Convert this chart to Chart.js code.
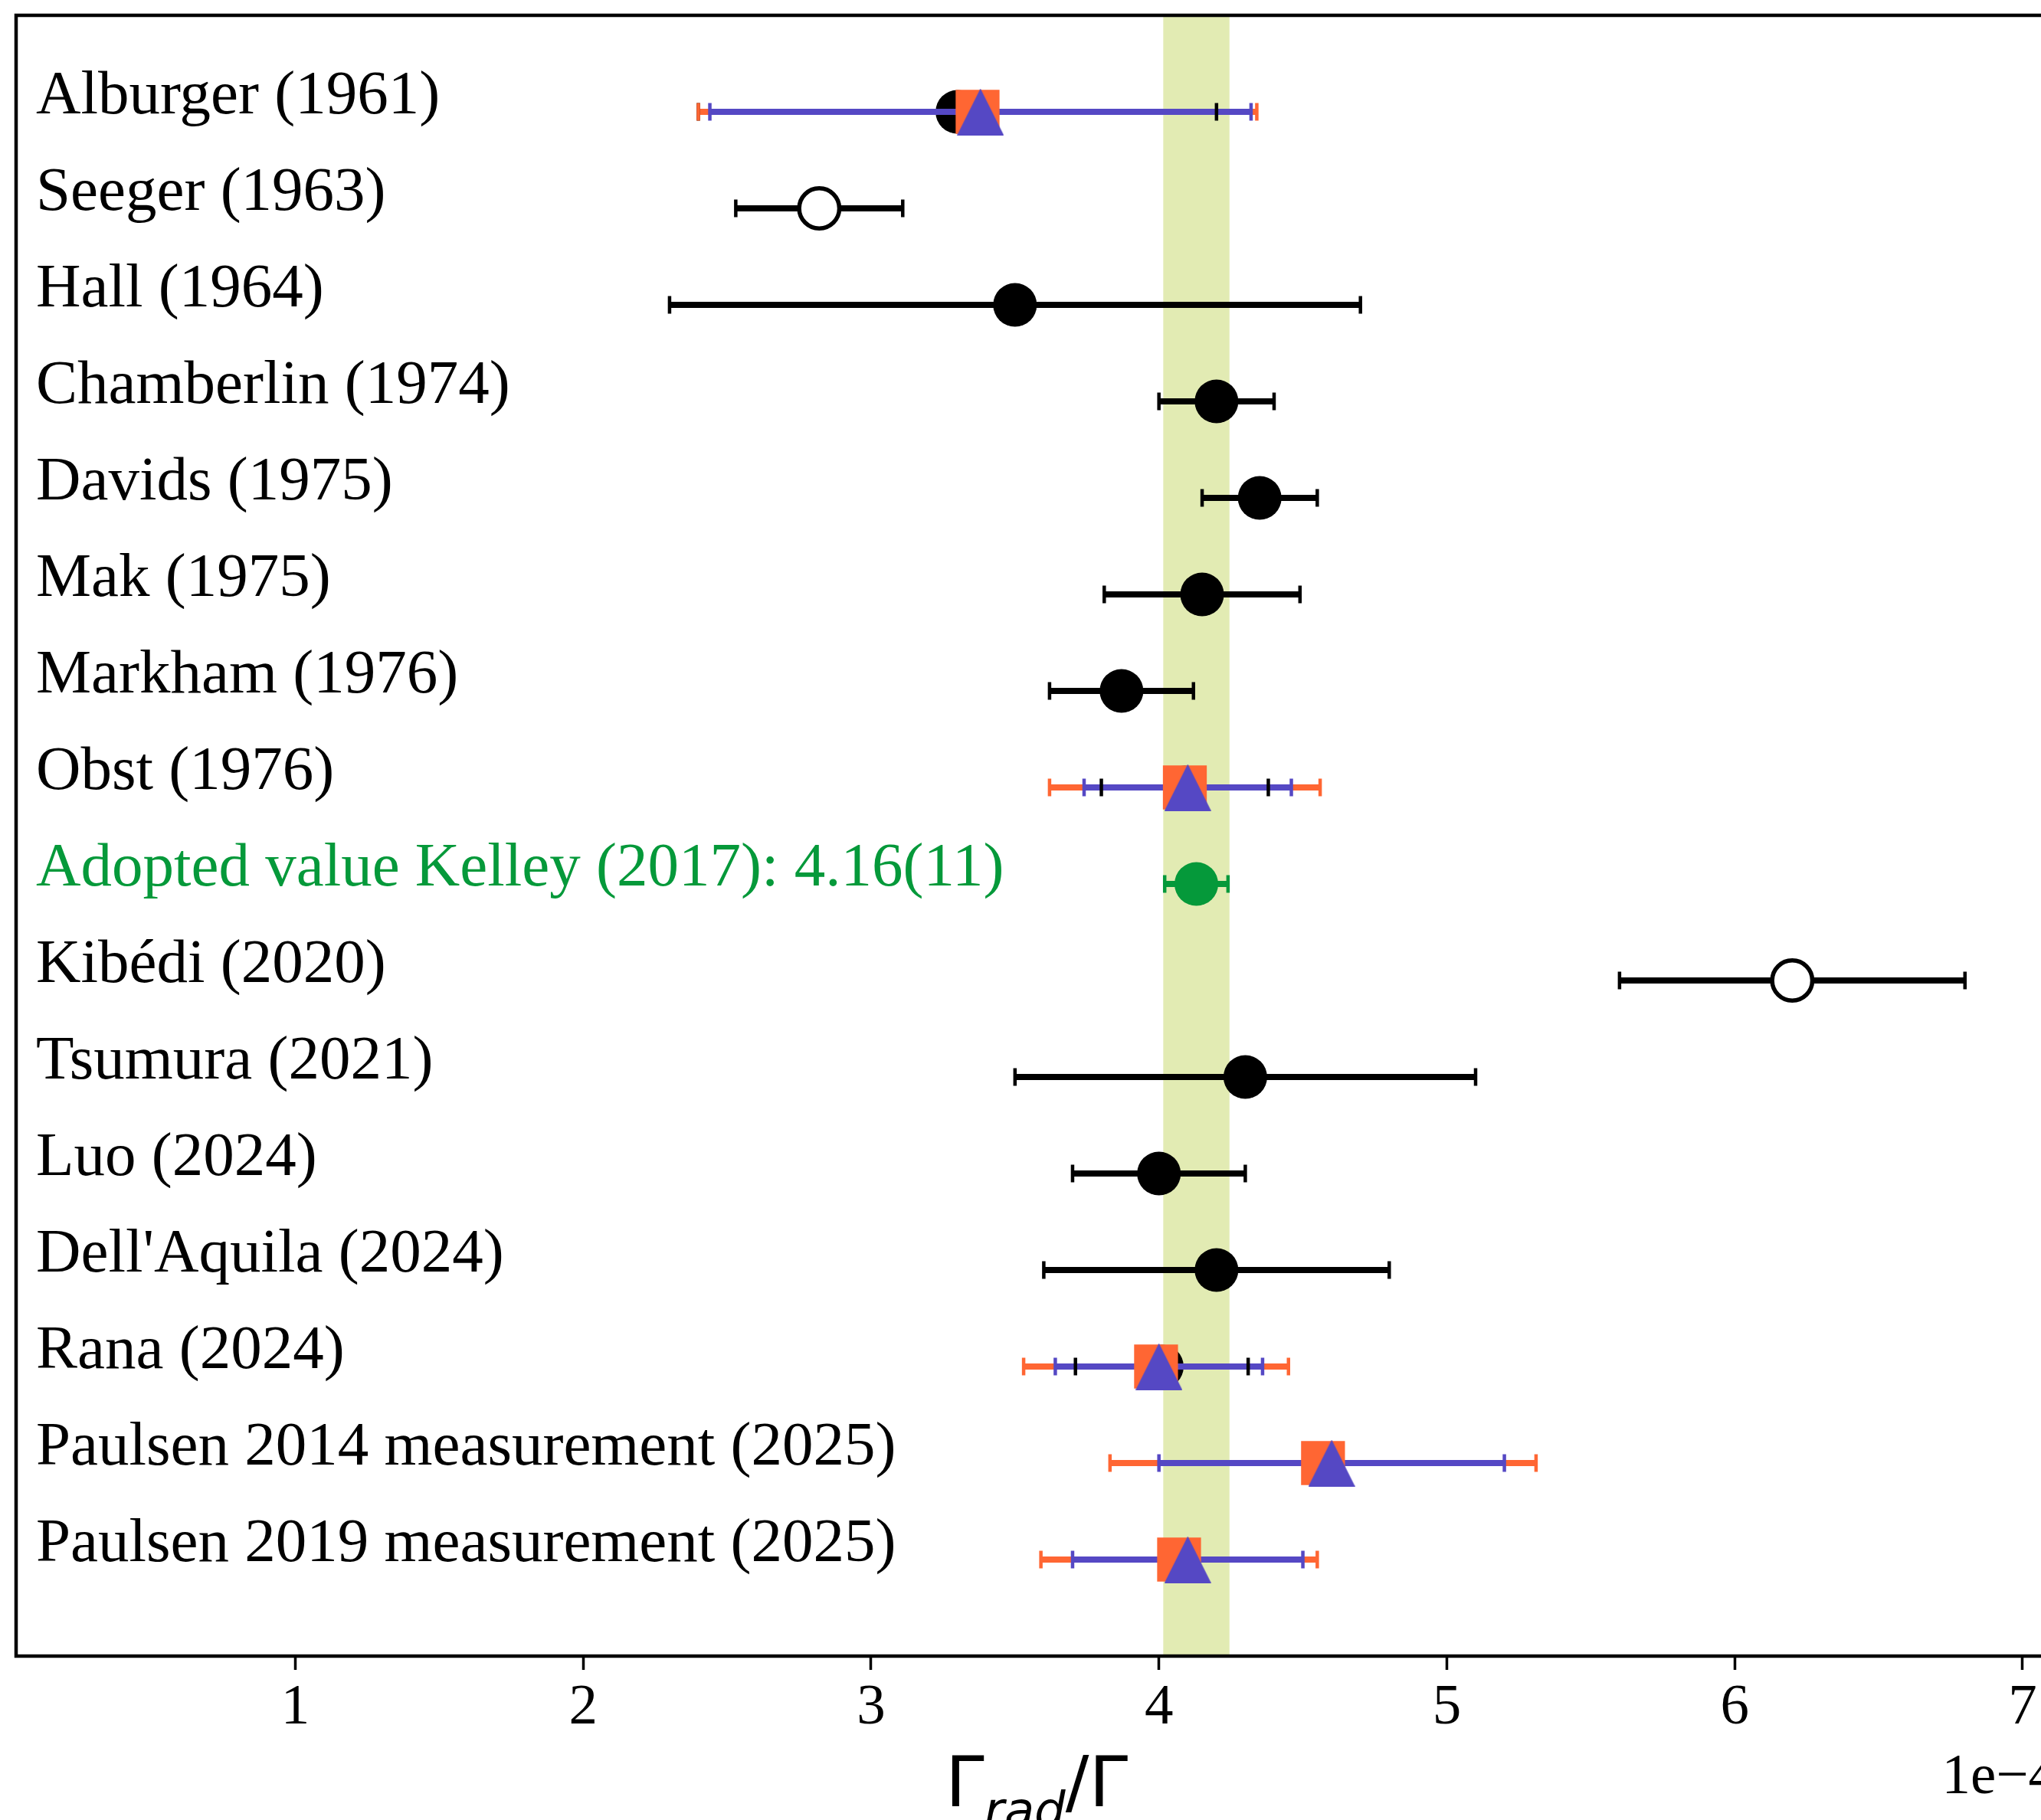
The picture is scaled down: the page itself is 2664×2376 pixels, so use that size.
<!DOCTYPE html>
<html>
<head>
<meta charset="utf-8">
<title>Radiative width ratio</title>
<script src="https://cdn.jsdelivr.net/npm/chart.js@4.4.1/dist/chart.umd.min.js"></script>
<style>
    html, body { margin: 0; padding: 0; background: #fff; overflow: hidden; }
    #wrap { position: relative; width: 2700px; height: 2376px; }
</style>
</head>
<body>
<div id="wrap"><canvas id="ratioChart"></canvas></div>
<script>
// rows, top to bottom
const rowLabels = [
    "Alburger (1961)",
    "Seeger (1963)",
    "Hall (1964)",
    "Chamberlin (1974)",
    "Davids (1975)",
    "Mak (1975)",
    "Markham (1976)",
    "Obst (1976)",
    "Adopted value Kelley (2017): 4.16(11)",
    "Kibédi (2020)",
    "Tsumura (2021)",
    "Luo (2024)",
    "Dell'Aquila (2024)",
    "Rana (2024)",
    "Paulsen 2014 measurement (2025)",
    "Paulsen 2019 measurement (2025)"
];

// values in units of 1e-4
const blackValues = [3.30, 2.82, 3.50, 4.20, 4.35, 4.15, 3.87, 4.09, null, 6.20, 4.30, 4.00, 4.20, 4.01, null, null];
const blackErrors = [0.90, 0.29, 1.20, 0.20, 0.20, 0.34, 0.25, 0.29, null, 0.60, 0.80, 0.30, 0.60, 0.30, null, null];
const blackOpen = [false, true, false, false, false, false, false, false, false, true, false, false, false, false, false, false];

const orangeValues = [3.37, null, null, null, null, null, null, 4.09, null, null, null, null, null, 3.99, 4.57, 4.07];
const orangeErrors = [0.97, null, null, null, null, null, null, 0.47, null, null, null, null, null, 0.46, 0.74, 0.48];

const blueValues = [3.38, null, null, null, null, null, null, 4.10, null, null, null, null, null, 4.00, 4.60, 4.10];
const blueErrors = [0.94, null, null, null, null, null, null, 0.36, null, null, null, null, null, 0.36, 0.60, 0.40];

const adoptedRow = 8;
const adoptedValues = [null, null, null, null, null, null, null, null, 4.13, null, null, null, null, null, null, null];
const adoptedErrors = [null, null, null, null, null, null, null, null, 0.11, null, null, null, null, null, null, null];
const adoptedBand = [4.015, 4.245];

const xTicks = [1, 2, 3, 4, 5, 6, 7];

const BLACK = "#000000";
const GREEN = "#05993a";
const ORANGE = "#ff6633";
const BLUE = "#5548c4";
const BAND = "#e2ebb3";
const SERIF = '"Liberation Serif", "Times New Roman", serif';

function markerPoints(values, keep) {
    const out = [];
    values.forEach((v, i) => {
        if (v !== null && keep(i)) {
            out.push({ x: v, y: i });
        }
    });
    return out;
}

function capPoints(values, errors) {
    const out = [];
    values.forEach((v, i) => {
        if (v === null) return;
        out.push({ x: v - errors[i], y: i }, { x: v + errors[i], y: i });
    });
    return out;
}

function barPoints(values, errors) {
    const out = [];
    values.forEach((v, i) => {
        if (v === null) return;
        out.push({ x: v - errors[i], y: i }, { x: v + errors[i], y: i }, { x: NaN, y: NaN });
    });
    return out;
}

function errorLine(values, errors, color, order) {
    return {
        data: barPoints(values, errors),
        showLine: true,
        borderColor: color,
        borderWidth: 8,
        pointRadius: 0,
        order
    };
}

function errorCaps(values, errors, color, order) {
    return {
        data: capPoints(values, errors),
        pointStyle: "line",
        pointRotation: 90,
        pointRadius: 11.5,
        pointBorderWidth: 4.5,
        pointBorderColor: color,
        order
    };
}

// matplotlib style "^": as wide as it is tall
function triangleImage(size, color) {
    const c = document.createElement("canvas");
    c.width = size;
    c.height = size;
    const g = c.getContext("2d");
    g.fillStyle = color;
    g.beginPath();
    g.moveTo(size / 2, 0);
    g.lineTo(size, size);
    g.lineTo(0, size);
    g.closePath();
    g.fill();
    return c;
}

// higher order = drawn further back
const datasets = [
    errorLine(blackValues, blackErrors, BLACK, 20),
    {
        data: markerPoints(blackValues, (i) => !blackOpen[i]),
        pointStyle: "circle",
        pointRadius: 28.5,
        pointBorderWidth: 0,
        pointBackgroundColor: BLACK,
        order: 19
    },
    {
        data: markerPoints(blackValues, (i) => blackOpen[i]),
        pointStyle: "circle",
        pointRadius: 26.2,
        pointBorderWidth: 5.5,
        pointBorderColor: BLACK,
        pointBackgroundColor: "#ffffff",
        order: 18
    },
    errorLine(adoptedValues, adoptedErrors, GREEN, 17),
    errorCaps(adoptedValues, adoptedErrors, GREEN, 16),
    {
        data: markerPoints(adoptedValues, () => true),
        pointStyle: "circle",
        pointRadius: 28.5,
        pointBorderWidth: 0,
        pointBackgroundColor: GREEN,
        order: 15
    },
    errorLine(orangeValues, orangeErrors, ORANGE, 14),
    errorLine(blueValues, blueErrors, BLUE, 13),
    errorCaps(blueValues, blueErrors, BLUE, 12),
    errorCaps(blackValues, blackErrors, BLACK, 11),
    errorCaps(orangeValues, orangeErrors, ORANGE, 10),
    {
        data: markerPoints(orangeValues, () => true),
        pointStyle: "rect",
        pointRadius: 40.5,
        pointBorderWidth: 0,
        pointBackgroundColor: ORANGE,
        order: 9
    },
    {
        data: markerPoints(blueValues, () => true),
        pointStyle: triangleImage(61, BLUE),
        pointRadius: 30,
        pointBorderWidth: 0,
        order: 8
    }
];

const decorations = {
    id: "decorations",

    beforeDatasetsDraw(chart) {
        const { ctx, chartArea, scales: { x } } = chart;
        const left = x.getPixelForValue(adoptedBand[0]);
        const right = x.getPixelForValue(adoptedBand[1]);
        ctx.save();
        ctx.fillStyle = BAND;
        ctx.fillRect(left, chartArea.top, right - left, chartArea.bottom - chartArea.top);
        ctx.restore();
    },

    afterDraw(chart) {
        const { ctx, chartArea } = chart;
        ctx.save();

        // axes box
        ctx.strokeStyle = BLACK;
        ctx.lineWidth = 4.5;
        ctx.strokeRect(chartArea.left, chartArea.top,
            chartArea.right - chartArea.left, chartArea.bottom - chartArea.top);

        // x label: Γ_rad / Γ
        ctx.fillStyle = BLACK;
        ctx.textBaseline = "alphabetic";
        ctx.textAlign = "left";
        const mainFont = '91px "DejaVu Sans"';
        const subFont = 'italic 64px "DejaVu Sans"';
        ctx.font = mainFont;
        const wGamma = ctx.measureText("Γ").width;
        const wRest = ctx.measureText("/Γ").width;
        ctx.font = subFont;
        const wSub = ctx.measureText("rad").width;
        const baseY = chartArea.bottom + 196;
        let px = (chartArea.left + chartArea.right) / 2 - (wGamma + wSub + wRest) / 2;
        ctx.font = mainFont;
        ctx.fillText("Γ", px, baseY);
        px += wGamma;
        ctx.font = subFont;
        ctx.fillText("rad", px, baseY + 27);
        px += wSub;
        ctx.font = mainFont;
        ctx.fillText("/Γ", px, baseY);

        // offset text
        ctx.font = "75px " + SERIF;
        ctx.textAlign = "right";
        ctx.fillText("1e\u22124", chartArea.right, chartArea.bottom + 179);

        ctx.restore();
    }
};

const ratioChart = new Chart(document.getElementById("ratioChart"), {
    type: "scatter",

    data: { datasets },

    options: {
        responsive: true,
        maintainAspectRatio: false,
        animation: false,
        events: [],

        layout: {
            autoPadding: false,
            padding: { left: 21, top: 20, right: 15, bottom: 0 }
        },

        plugins: {
            legend: { display: false },
            tooltip: { enabled: false }
        },

        scales: {
            x: {
                type: "linear",
                position: "bottom",
                min: 0.03,
                max: 7.12,
                afterBuildTicks(axis) {
                    axis.ticks = xTicks.map((v) => ({ value: v }));
                },
                afterFit(axis) {
                    axis.height = 214;
                    axis.paddingLeft = 0;
                    axis.paddingRight = 0;
                },
                border: { display: false },
                grid: {
                    display: true,
                    drawOnChartArea: false,
                    drawTicks: true,
                    tickLength: 18,
                    tickWidth: 3.5,
                    tickColor: BLACK
                },
                ticks: {
                    autoSkip: false,
                    maxRotation: 0,
                    padding: 5,
                    color: BLACK,
                    font: { family: SERIF, size: 75 },
                    callback(value) {
                        return String(value);
                    }
                }
            },

            y: {
                type: "linear",
                position: "left",
                reverse: true,
                min: -1,
                max: rowLabels.length,
                afterBuildTicks(axis) {
                    axis.ticks = rowLabels.map((_, i) => ({ value: i }));
                },
                afterFit(axis) {
                    axis.width = 0;
                    axis.paddingTop = 0;
                    axis.paddingBottom = 0;
                },
                border: { display: false },
                grid: { display: false, drawTicks: false },
                ticks: {
                    autoSkip: false,
                    mirror: true,
                    padding: 26,
                    labelOffset: -19,
                    font: { family: SERIF, size: 81 },
                    color(ctx) {
                        return ctx.tick && ctx.tick.value === adoptedRow ? GREEN : BLACK;
                    },
                    callback(value) {
                        return rowLabels[value];
                    }
                }
            }
        }
    },

    plugins: [decorations]
});
</script>
</body>
</html>
